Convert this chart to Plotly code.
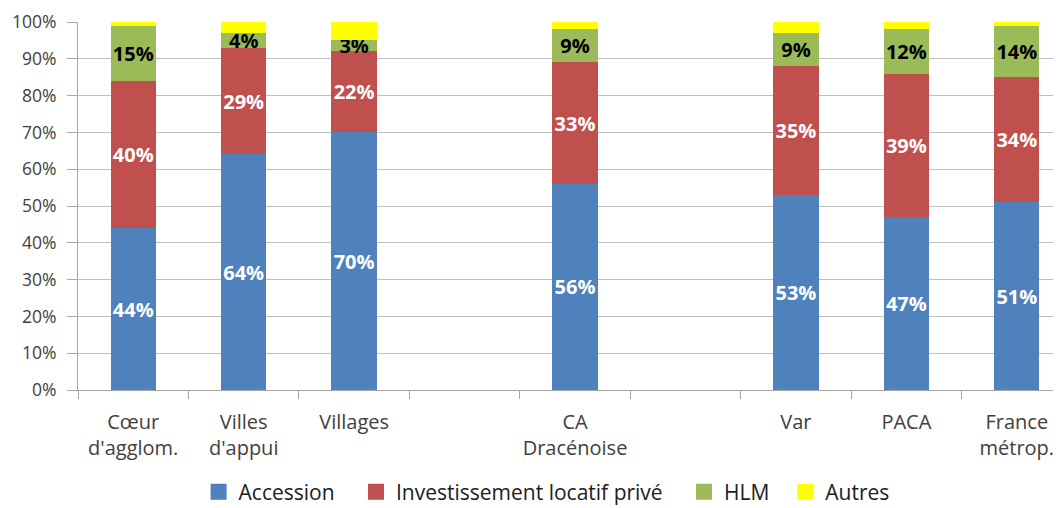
import plotly.graph_objects as go

categories = ["Cœur<br>d'agglom.", "Villes<br>d'appui", "Villages", " ", "CA<br>Dracénoise", "  ", "Var", "PACA", "France<br>métrop."]
accession = [44, 64, 70, None, 56, None, 53, 47, 51]
investissement = [40, 29, 22, None, 33, None, 35, 39, 34]
hlm = [15, 4, 3, None, 9, None, 9, 12, 14]
autres = [1, 3, 5, None, 2, None, 3, 2, 1]
y_ticks = [0, 10, 20, 30, 40, 50, 60, 70, 80, 90, 100]
y_tick_labels = [f"{v}%" for v in y_ticks]

NB = "\u00a0"
series = [
    ("Accession", accession, "#4F81BD", "white", True, 3),
    ("Investissement locatif privé", investissement, "#C0504D", "white", True, 3),
    ("HLM", hlm, "#9BBB59", "black", True, 2),
    ("Autres", autres, "#FFFF00", "black", False, 0),
]

FONT = "'Open Sans', Lato, sans-serif"

fig = go.Figure()
for name, vals, color, tcolor, show, pad in series:
    fig.add_trace(go.Bar(
        name=name,
        x=categories,
        y=vals,
        showlegend=False,
        marker=dict(color=color, line=dict(width=0)),
        text=[(f"{v}%" if (v is not None and show) else "") for v in vals],
        textposition="inside",
        insidetextanchor="middle",
        textangle=0,
        textfont=dict(color=tcolor, size=20, family=FONT, weight="bold"),
        hoverinfo="skip",
    ))
for name, vals, color, tcolor, show, pad in series:
    fig.add_trace(go.Scatter(
        name=name + NB * pad,
        x=[None], y=[None],
        mode="markers",
        marker=dict(symbol="square", size=16, color=color),
        hoverinfo="skip",
        showlegend=True,
    ))

fig.update_layout(
    barmode="stack",
    bargap=0.59,
    width=1053,
    height=500,
    margin=dict(l=70, r=0, t=14, b=118),
    paper_bgcolor="white",
    plot_bgcolor="white",
    font=dict(family=FONT, size=16, color="#404040"),
    uniformtext=dict(minsize=20, mode="show"),
    showlegend=True,
    legend=dict(
        orientation="h",
        xref="container", yref="container",
        x=0.181, xanchor="left",
        y=0.032, yanchor="middle",
        font=dict(size=21, color="#202020", family=FONT),
        traceorder="normal",
        itemwidth=30,
        tracegroupgap=0,
    ),
    xaxis=dict(
        type="category",
        range=[-0.5, 8.4],
        automargin=False,
        showline=True,
        linecolor="#A6A6A6",
        linewidth=1,
        ticks="outside",
        tickson="boundaries",
        ticklen=8,
        tickcolor="#A6A6A6",
        tickangle=0,
        ticklabelstandoff=14,
        tickfont=dict(size=20, color="#404040", family=FONT),
        showgrid=False,
    ),
    yaxis=dict(
        range=[0, 100],
        automargin=False,
        tickvals=y_ticks,
        ticktext=y_tick_labels,
        showline=True,
        linecolor="#A6A6A6",
        linewidth=1,
        ticks="outside",
        ticklen=10,
        tickcolor="#A6A6A6",
        ticklabelstandoff=7,
        showgrid=True,
        gridcolor="#BFBFBF",
        gridwidth=1,
        tickfont=dict(size=17.5, color="#404040", family=FONT),
        zeroline=False,
    ),
)

fig.write_html("out.html")
